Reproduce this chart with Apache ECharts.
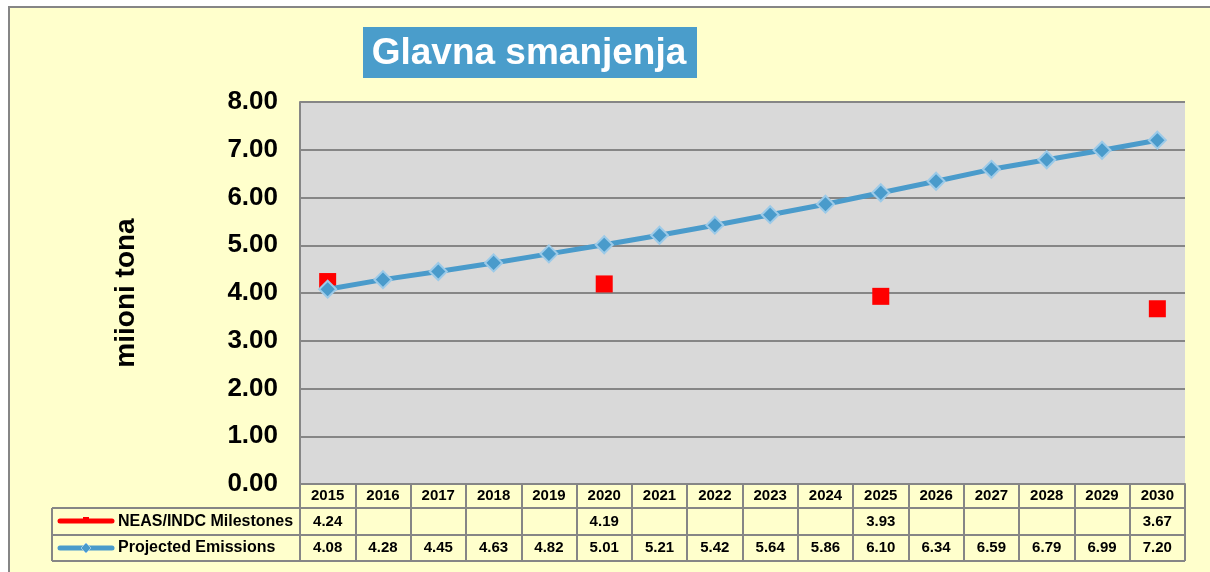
<!DOCTYPE html>
<html>
<head>
<meta charset="utf-8">
<script src="https://cdn.jsdelivr.net/npm/echarts@6/dist/echarts.min.js"></script>
<style>
* { margin: 0; padding: 0; }
body { background: #fff; }
</style>
</head>
<body>
<div id="main" style="width:1210px;height:572px;"></div>
<script>
var years = ["2015", "2016", "2017", "2018", "2019", "2020", "2021", "2022", "2023", "2024", "2025", "2026", "2027", "2028", "2029", "2030"];
var milestones = [4.24, null, null, null, null, 4.19, null, null, null, null, 3.93, null, null, null, null, 3.67];
var projected = [4.08, 4.28, 4.45, 4.63, 4.82, 5.01, 5.21, 5.42, 5.64, 5.86, 6.10, 6.34, 6.59, 6.79, 6.99, 7.20];
var yTicks = [0, 1, 2, 3, 4, 5, 6, 7, 8];
var milestoneName = "NEAS/INDC Milestones";
var projectedName = "Projected Emissions";

var font = "Liberation Sans";
var gridLine = "#868686";
var blue = "#4A9BCB";

var charts = echarts.init(document.getElementById("main"));

function fmt(v) {
  return v == null ? " " : v.toFixed(2);
}

charts.setOption({
  animation: false,
  backgroundColor: "#fff",
  grid: {
    left: 300,
    right: 25,
    top: 102,
    bottom: 88,
    show: true,
    backgroundColor: "#D9D9D9",
    borderWidth: 0
  },
  xAxis: {
    type: "category",
    data: years,
    boundaryGap: true,
    axisLine: { lineStyle: { color: gridLine, width: 2 } },
    axisTick: {
      show: true,
      interval: 0,
      length: 77,
      lineStyle: { color: gridLine, width: 2 }
    },
    axisLabel: {
      interval: 0,
      margin: 0,
      formatter: function (val, idx) {
        // year row + the two data-table rows
        return "{y|" + val + "}\n{a|" + fmt(milestones[idx]) + "}\n{b|" + fmt(projected[idx]) + "}";
      },
      rich: {
        y: { fontFamily: font, fontWeight: "bold", fontSize: 15, lineHeight: 24, color: "#000" },
        a: { fontFamily: font, fontWeight: "bold", fontSize: 15, lineHeight: 27, color: "#000" },
        b: { fontFamily: font, fontWeight: "bold", fontSize: 15, lineHeight: 26, color: "#000" }
      }
    }
  },
  yAxis: {
    type: "value",
    min: yTicks[0],
    max: yTicks[yTicks.length - 1],
    interval: 1,
    name: "miioni tona",
    nameLocation: "middle",
    nameRotate: 90,
    nameGap: 160,
    nameTextStyle: { fontFamily: font, fontWeight: "bold", fontSize: 28, color: "#000" },
    axisLine: { show: true, lineStyle: { color: gridLine, width: 2 } },
    axisTick: { show: false },
    axisLabel: {
      margin: 22,
      fontFamily: font,
      fontWeight: "bold",
      fontSize: 26,
      color: "#000",
      formatter: function (v) { return v.toFixed(2); }
    },
    splitLine: { show: true, lineStyle: { color: gridLine, width: 2 } }
  },
  series: [
    {
      name: projectedName,
      type: "line",
      data: projected,
      symbol: "diamond",
      symbolSize: 17,
      z: 3,
      lineStyle: { color: blue, width: 5 },
      itemStyle: { color: blue, borderColor: "#9CCAE8", borderWidth: 2 }
    },
    {
      name: milestoneName,
      type: "scatter",
      data: milestones,
      symbol: "rect",
      symbolSize: 17,
      z: 2,
      itemStyle: { color: "#FF0000", opacity: 1 }
    }
  ],
  graphic: [
    // outer chart frame
    { type: "rect", z: -10, shape: { x: 9, y: 7, width: 1215, height: 600 }, style: { fill: "#FFFFCC", stroke: gridLine, lineWidth: 2 } },
    // title
    { type: "rect", shape: { x: 363, y: 27, width: 334, height: 51 }, style: { fill: "#4A9DCB" } },
    { type: "text", x: 529, y: 54, style: { text: "Glavna smanjenja", font: "bold 37px " + font, fill: "#fff", align: "center", verticalAlign: "middle" } },
    // data table frame
    { type: "line", shape: { x1: 52, y1: 508, x2: 1185, y2: 508 }, style: { stroke: gridLine, lineWidth: 2 } },
    { type: "line", shape: { x1: 52, y1: 535, x2: 1185, y2: 535 }, style: { stroke: gridLine, lineWidth: 2 } },
    { type: "line", shape: { x1: 52, y1: 561, x2: 1185, y2: 561 }, style: { stroke: gridLine, lineWidth: 2 } },
    { type: "line", shape: { x1: 52, y1: 508, x2: 52, y2: 561 }, style: { stroke: gridLine, lineWidth: 2 } },
    // legend keys
    { type: "line", shape: { x1: 60, y1: 521, x2: 112, y2: 521 }, style: { stroke: "#FF0000", lineWidth: 5, lineCap: "round" } },
    { type: "rect", shape: { x: 83, y: 517, width: 6, height: 5 }, style: { fill: "#FF0000" } },
    { type: "text", x: 118, y: 522, style: { text: milestoneName, font: "bold 16px " + font, fill: "#000", verticalAlign: "middle" } },
    { type: "line", shape: { x1: 60, y1: 548, x2: 112, y2: 548 }, style: { stroke: blue, lineWidth: 5, lineCap: "round" } },
    { type: "polygon", shape: { points: [[86, 543], [91, 548], [86, 553], [81, 548]] }, style: { fill: blue, stroke: "#9CCAE8", lineWidth: 1 } },
    { type: "text", x: 118, y: 548, style: { text: projectedName, font: "bold 16px " + font, fill: "#000", verticalAlign: "middle" } }
  ]
});
</script>
</body>
</html>
